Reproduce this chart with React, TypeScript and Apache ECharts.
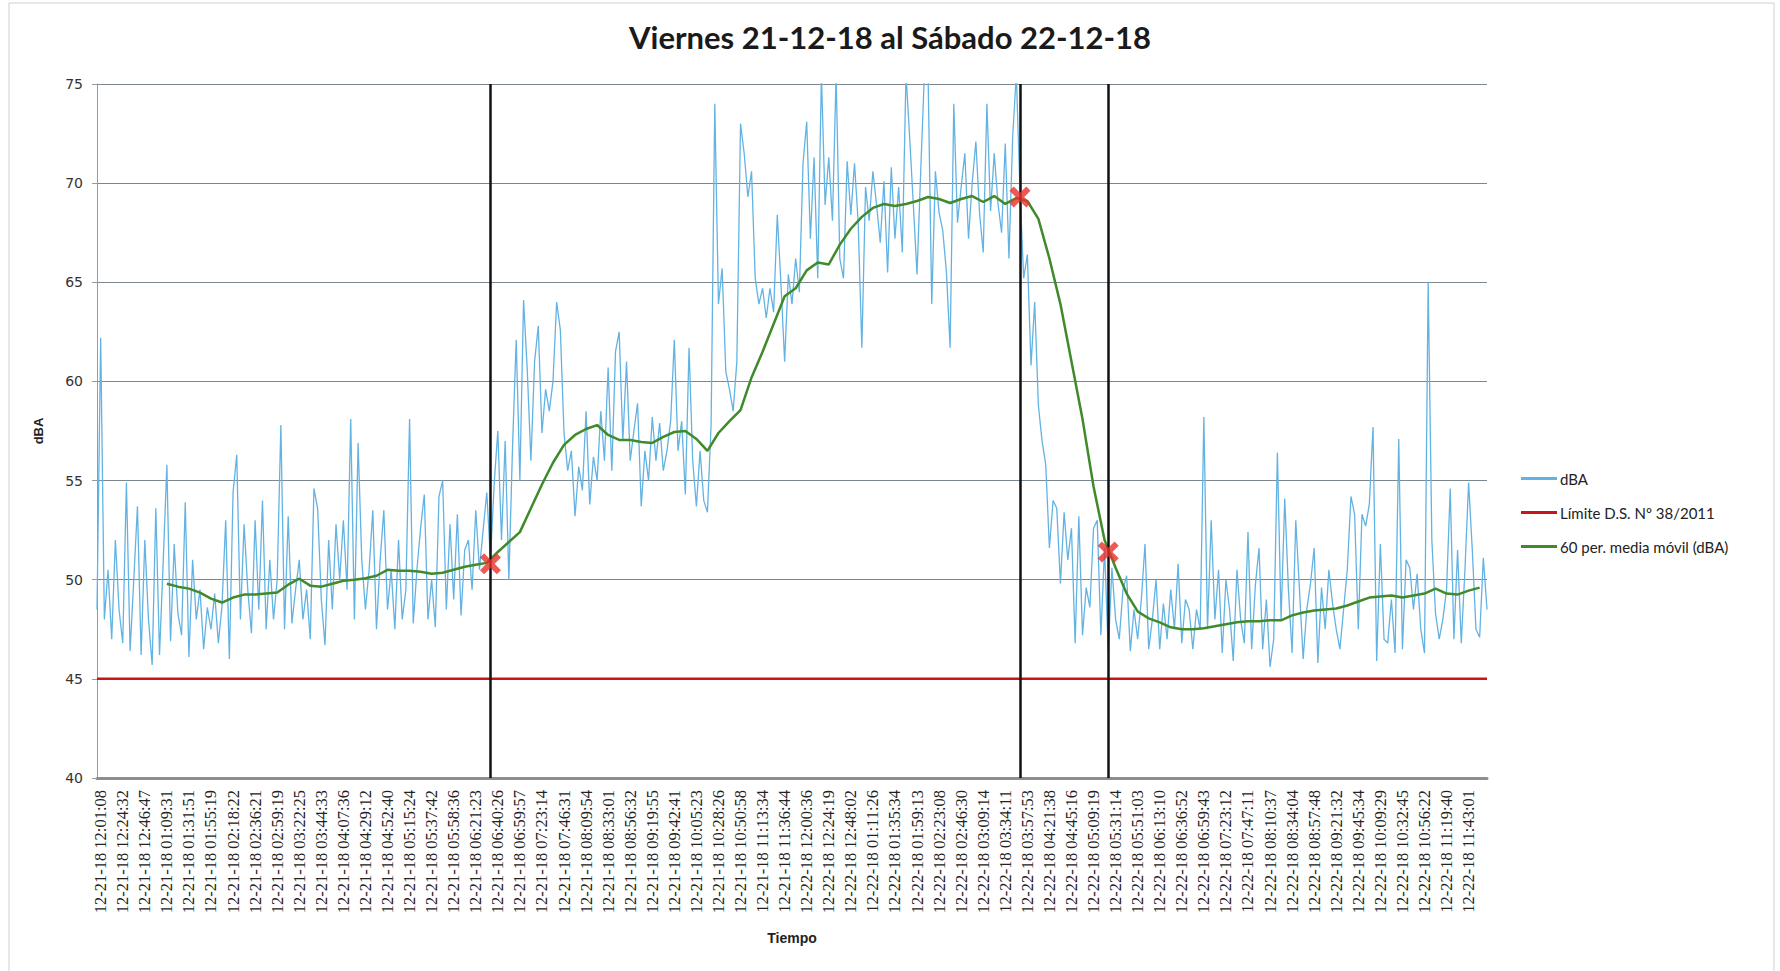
import React, { useEffect, useRef } from "react";
import * as echarts from "echarts";

const TITLE = "Viernes 21-12-18 al Sábado 22-12-18";
const X_NAME = "Tiempo";
const Y_NAME = "dBA";
const SERIES_NAMES = ["dBA", "Límite D.S. Nº 38/2011", "60 per. media móvil (dBA)"];

const TIME_LABELS = [
  "12-21-18 12:01:08", "12-21-18 12:24:32", "12-21-18 12:46:47", "12-21-18 01:09:31",
  "12-21-18 01:31:51", "12-21-18 01:55:19", "12-21-18 02:18:22", "12-21-18 02:36:21",
  "12-21-18 02:59:19", "12-21-18 03:22:25", "12-21-18 03:44:33", "12-21-18 04:07:36",
  "12-21-18 04:29:12", "12-21-18 04:52:40", "12-21-18 05:15:24", "12-21-18 05:37:42",
  "12-21-18 05:58:36", "12-21-18 06:21:23", "12-21-18 06:40:26", "12-21-18 06:59:57",
  "12-21-18 07:23:14", "12-21-18 07:46:31", "12-21-18 08:09:54", "12-21-18 08:33:01",
  "12-21-18 08:56:32", "12-21-18 09:19:55", "12-21-18 09:42:41", "12-21-18 10:05:23",
  "12-21-18 10:28:26", "12-21-18 10:50:58", "12-21-18 11:13:34", "12-21-18 11:36:44",
  "12-22-18 12:00:36", "12-22-18 12:24:19", "12-22-18 12:48:02", "12-22-18 01:11:26",
  "12-22-18 01:35:34", "12-22-18 01:59:13", "12-22-18 02:23:08", "12-22-18 02:46:30",
  "12-22-18 03:09:14", "12-22-18 03:34:11", "12-22-18 03:57:53", "12-22-18 04:21:38",
  "12-22-18 04:45:16", "12-22-18 05:09:19", "12-22-18 05:31:14", "12-22-18 05:51:03",
  "12-22-18 06:13:10", "12-22-18 06:36:52", "12-22-18 06:59:43", "12-22-18 07:23:12",
  "12-22-18 07:47:11", "12-22-18 08:10:37", "12-22-18 08:34:04", "12-22-18 08:57:48",
  "12-22-18 09:21:32", "12-22-18 09:45:34", "12-22-18 10:09:29", "12-22-18 10:32:45",
  "12-22-18 10:56:22", "12-22-18 11:19:40", "12-22-18 11:43:01",
];
// one labelled sample every POINTS_PER_LABEL samples, starting at LABEL_OFFSET
const POINTS_PER_LABEL = 6;
const LABEL_OFFSET = 1;

// dBA readings (one per sample)
const DBA = [
  48.5, 62.2, 48.0, 50.5, 47.0, 52.0, 48.5, 46.8, 54.9, 46.4,
  50.0, 53.7, 46.2, 52.0, 48.0, 45.7, 53.6, 46.2, 50.9, 55.8,
  46.9, 51.8, 48.3, 47.2, 53.9, 46.1, 51.0, 48.0, 49.5, 46.5,
  48.6, 47.5, 49.3, 46.8, 48.7, 53.0, 46.0, 54.4, 56.3, 48.0,
  52.8, 49.5, 47.3, 53.0, 48.5, 54.0, 47.5, 51.0, 48.0, 50.0,
  57.8, 47.5, 53.2, 47.8, 49.5, 51.0, 48.0, 49.5, 47.0, 54.6,
  53.6, 49.0, 46.7, 52.0, 48.5, 52.8, 50.0, 53.0, 49.5, 58.1,
  48.0, 56.9, 51.0, 48.5, 50.5, 53.5, 47.5, 51.0, 53.5, 48.5,
  50.5, 47.5, 52.0, 48.0, 49.5, 58.1, 47.8, 50.5, 52.6, 54.3,
  48.0, 50.0, 47.6, 54.2, 55.0, 48.5, 52.8, 49.0, 53.3, 48.2,
  51.5, 52.0, 49.5, 53.5, 50.5, 52.5, 54.4, 51.0, 54.8, 57.5,
  52.0, 57.0, 50.0, 56.7, 62.1, 55.0, 64.1, 60.6, 56.0, 61.0,
  62.8, 57.4, 59.6, 58.5, 60.0, 64.0, 62.6, 57.4, 55.5, 56.5,
  53.2, 55.7, 54.5, 58.5, 53.8, 56.2, 55.0, 58.5, 56.0, 60.7,
  55.5, 61.5, 62.5, 57.0, 61.0, 56.0, 57.5, 58.9, 53.7, 56.5,
  55.0, 58.2, 56.0, 57.9, 55.5, 56.5, 58.0, 62.1, 56.5, 58.0,
  54.3, 61.7, 56.0, 53.7, 56.5, 54.0, 53.4, 57.8, 74.0, 63.9,
  65.7, 60.5, 59.6, 58.5, 61.0, 73.0, 71.5, 69.3, 70.6, 65.2,
  63.9, 64.7, 63.2, 64.7, 63.5, 68.4, 64.9, 61.0, 65.4, 63.9,
  66.2, 64.5, 71.0, 73.1, 67.2, 71.3, 65.2, 75.5, 68.9, 71.3,
  68.1, 75.5, 66.2, 65.2, 71.1, 68.4, 71.0, 68.0, 61.7, 69.8,
  68.1, 70.6, 68.9, 67.0, 70.1, 65.5, 70.8, 67.2, 69.8, 66.5,
  75.5, 72.3, 68.9, 65.4, 70.6, 75.5, 75.5, 63.9, 70.6, 68.5,
  67.6, 65.5, 61.7, 74.0, 68.0, 69.8, 71.5, 67.2, 70.0, 72.1,
  68.5, 66.5, 74.0, 68.6, 71.5, 69.0, 67.5, 72.0, 66.2, 72.3,
  75.5, 69.6, 65.2, 66.4, 60.8, 64.0, 58.8, 57.0, 55.8, 51.6,
  54.0, 53.6, 49.8, 53.4, 51.0, 52.6, 46.8, 53.2, 47.2, 49.6,
  48.6, 52.6, 53.0, 47.2, 51.6, 46.4, 50.6, 48.0, 47.0, 49.5,
  50.2, 46.4, 48.5, 47.0, 49.0, 51.8, 46.5, 48.0, 50.0, 46.5,
  48.8, 47.0, 49.5, 47.5, 50.8, 46.8, 49.0, 48.5, 46.5, 48.5,
  47.5, 58.2, 47.5, 53.0, 48.0, 50.5, 46.3, 50.0, 48.5, 45.9,
  50.5, 48.0, 46.8, 52.4, 46.5, 49.7, 51.6, 46.5, 49.0, 45.6,
  47.0, 56.4, 48.0, 54.1, 49.5, 46.3, 53.0, 49.5, 46.0, 48.5,
  49.8, 51.6, 45.8, 49.6, 47.5, 50.5, 48.8, 47.5, 46.5, 48.5,
  50.5, 54.2, 53.3, 47.5, 53.3, 52.7, 53.8, 57.7, 45.9, 51.8,
  47.0, 46.8, 49.0, 46.3, 57.1, 46.5, 51.0, 50.6, 48.5, 50.3,
  47.5, 46.3, 65.0, 52.0, 48.3, 47.0, 48.0, 49.5, 54.6, 47.0,
  51.5, 46.8, 50.5, 54.9, 51.5, 47.5, 47.1, 51.1, 48.5,
];

// 60-period moving average, read every MA_STEP samples from sample MA_START
const MA_START = 19;
const MA_STEP = 3;
const MOVING_AVG = [
  49.8, 49.65, 49.55, 49.35, 49.05, 48.85, 49.1, 49.25, 49.25, 49.3,
  49.35, 49.75, 50.05, 49.7, 49.65, 49.8, 49.95, 50.0, 50.07, 50.2,
  50.5, 50.45, 50.45, 50.4, 50.3, 50.35, 50.5, 50.65, 50.75, 50.85,
  51.4, 51.9, 52.4, 53.6, 54.8, 55.9, 56.8, 57.3, 57.6, 57.8,
  57.3, 57.05, 57.05, 56.95, 56.9, 57.2, 57.45, 57.5, 57.1, 56.5,
  57.4, 58.0, 58.55, 60.2, 61.5, 62.9, 64.3, 64.7, 65.6, 66.0,
  65.9, 66.9, 67.7, 68.3, 68.75, 68.95, 68.85, 68.95, 69.1, 69.3,
  69.2, 69.0, 69.2, 69.35, 69.05, 69.35, 68.95, 69.25, 69.1, 68.2,
  66.2, 63.9, 61.0, 58.1, 54.7, 52.0, 50.6, 49.3, 48.4, 48.05,
  47.85, 47.6, 47.5, 47.5, 47.55, 47.65, 47.75, 47.85, 47.9, 47.9,
  47.95, 47.95, 48.2, 48.35, 48.45, 48.5, 48.55, 48.7, 48.9, 49.1,
  49.15, 49.2, 49.1, 49.2, 49.3, 49.55, 49.3, 49.25, 49.45, 49.6,
];

const LIMIT = 45;
// marked events (sample index) and moving-average value at each
const EVENT_IDX = [107, 251, 275];
const EVENT_VAL = [50.8, 69.3, 51.4];

const Y_MIN = 40;
const Y_MAX = 75;
const Y_STEP = 5;

const CROSS =
  "path://M2,0 L5,3 L8,0 L10,2 L7,5 L10,8 L8,10 L5,7 L2,10 L0,8 L3,5 L0,2 Z";

const COLORS = ["#62b3e3", "#c8141b", "#3f8a2a"];

export default function App() {
  const ref = useRef<HTMLDivElement>(null);

  useEffect(() => {
    if (!ref.current) return;
    const chart = echarts.init(ref.current, null, { renderer: "svg" });
    const categories = DBA.map((_, i) => String(i));
    const limitData = DBA.map(() => LIMIT);
    const maData = MOVING_AVG.map((v, m) => [MA_START + MA_STEP * m, v]);
    const eventData = EVENT_IDX.map((x, k) => [x, EVENT_VAL[k]]);

    chart.setOption({
      animation: false,
      backgroundColor: "#ffffff",
      title: {
        text: TITLE,
        left: "center",
        top: 16,
        textStyle: {
          fontFamily: "Lato",
          fontWeight: "bold",
          fontSize: 31,
          color: "#1a1a1a",
        },
      },
      graphic: [
        {
          type: "rect",
          shape: { x: 9, y: 3, width: 1765, height: 980 },
          style: { fill: "none", stroke: "#d0d0d0", lineWidth: 1 },
          silent: true,
        },
      ],
      legend: {
        orient: "vertical",
        left: 1516,
        top: 466,
        itemWidth: 36,
        itemHeight: 3,
        itemGap: 19,
        icon: "rect",
        data: SERIES_NAMES.map((n, k) => ({
          name: n,
          itemStyle: { color: COLORS[k] },
        })),
        textStyle: { fontFamily: "Lato", fontSize: 15, color: "#222", padding: [0, 0, 0, -2] },
      },
      grid: { left: 97, right: 293, top: 84, bottom: 193, containLabel: false },
      xAxis: {
        type: "category",
        data: categories,
        boundaryGap: false,
        name: X_NAME,
        nameLocation: "middle",
        nameGap: 153,
        nameTextStyle: {
          fontFamily: "Liberation Sans",
          fontWeight: "bold",
          fontSize: 14,
          color: "#222",
        },
        axisLine: { show: true, lineStyle: { color: "#8e8e8e", width: 3 } },
        axisTick: { show: false },
        splitLine: { show: false },
        axisLabel: {
          rotate: 90,
          margin: 12,
          interval: (index: number) =>
            index >= LABEL_OFFSET && (index - LABEL_OFFSET) % POINTS_PER_LABEL === 0,
          formatter: (_v: string, index: number) =>
            TIME_LABELS[(index - LABEL_OFFSET) / POINTS_PER_LABEL] ?? "",
          fontFamily: "Liberation Serif",
          fontSize: 16.5,
          color: "#222",
        },
      },
      yAxis: {
        type: "value",
        min: Y_MIN,
        max: Y_MAX,
        interval: Y_STEP,
        name: Y_NAME,
        nameLocation: "middle",
        nameRotate: 90,
        nameGap: 52,
        nameTextStyle: {
          fontFamily: "Liberation Sans",
          fontWeight: "bold",
          fontSize: 13,
          color: "#222",
        },
        axisLine: { show: true, lineStyle: { color: "#9a9a9a", width: 1 } },
        axisTick: { show: true, length: 5, lineStyle: { color: "#9a9a9a" } },
        axisLabel: {
          fontFamily: "DejaVu Sans",
          fontSize: 14,
          color: "#333",
          margin: 14,
        },
        splitLine: { show: true, lineStyle: { color: "#7d8790", width: 1 } },
      },
      series: [
        {
          name: SERIES_NAMES[0],
          type: "line",
          data: DBA,
          symbol: "none",
          clip: true,
          lineStyle: { color: COLORS[0], width: 1.3 },
          itemStyle: { color: COLORS[0] },
          z: 2,
          markLine: {
            silent: true,
            symbol: "none",
            label: { show: false },
            lineStyle: { color: "#111111", width: 2.5, type: "solid" },
            data: EVENT_IDX.map((x) => ({ xAxis: x })),
            z: 5,
          },
        },
        {
          name: SERIES_NAMES[1],
          type: "line",
          data: limitData,
          symbol: "none",
          lineStyle: { color: COLORS[1], width: 2.5 },
          itemStyle: { color: COLORS[1] },
          z: 3,
        },
        {
          name: SERIES_NAMES[2],
          type: "line",
          data: maData,
          symbol: "none",
          lineStyle: { color: COLORS[2], width: 2.5 },
          itemStyle: { color: COLORS[2] },
          z: 4,
        },
        {
          name: "eventos",
          type: "scatter",
          data: eventData,
          symbol: CROSS,
          symbolSize: 21,
          itemStyle: { color: "#e8302a" },
          z: 10,
        },
      ],
    });

    return () => chart.dispose();
  }, []);

  return (
    <div
      ref={ref}
      style={{ position: "absolute", left: 0, top: 0, width: 1780, height: 971 }}
    />
  );
}
